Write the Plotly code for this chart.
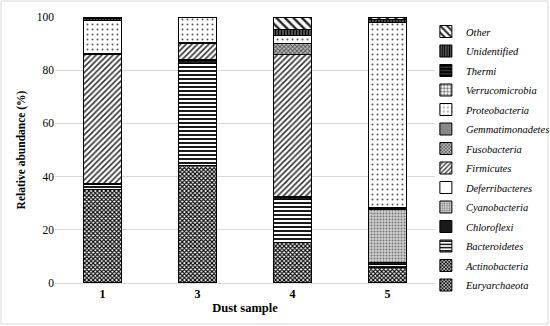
import plotly.graph_objects as go

samples = ["1", "3", "4", "5"]
phyla = ["Euryarchaeota", "Actinobacteria", "Bacteroidetes", "Chloroflexi", "Cyanobacteria",
         "Deferribacteres", "Firmicutes", "Fusobacteria", "Gemmatimonadetes", "Proteobacteria",
         "Verrucomicrobia", "Thermi", "Unidentified", "Other"]

euryarchaeota = [0.1, 0.1, 0.1, 0.1]
actinobacteria = [35.2, 44.0, 15.0, 5.9]
bacteroidetes = [1.8, 38.4, 16.4, 1.0]
chloroflexi = [0.2, 1.3, 0.8, 0.7]
cyanobacteria = [0.1, 0.2, 0.3, 20.1]
deferribacteres = [0.0, 0.0, 0.0, 0.0]
firmicutes = [48.6, 6.2, 53.3, 0.2]
fusobacteria = [0.1, 0.1, 4.0, 0.1]
gemmatimonadetes = [0.1, 0.1, 0.1, 0.1]
proteobacteria = [12.4, 9.6, 3.1, 69.7]
verrucomicrobia = [0.1, 0.0, 0.1, 0.1]
thermi = [0.0, 0.0, 0.0, 0.1]
unidentified = [0.6, 0.0, 2.2, 0.9]
other = [0.7, 0.0, 4.6, 1.0]

values = [euryarchaeota, actinobacteria, bacteroidetes, chloroflexi, cyanobacteria,
          deferribacteres, firmicutes, fusobacteria, gemmatimonadetes, proteobacteria,
          verrucomicrobia, thermi, unidentified, other]

# pattern styles: (shape, fg, bg, size, solidity)
styles = [
    ("x", "#000000", "#ffffff", 3, 0.6),   # Euryarchaeota
    ("x", "#000000", "#ffffff", 3, 0.6),   # Actinobacteria
    ("-", "#000000", "#ffffff", 4, 0.45),  # Bacteroidetes
    ("", "#000000", "#1a1a1a", 4, 0.5),    # Chloroflexi
    (".", "#777777", "#d0d0d0", 3, 0.35),  # Cyanobacteria
    ("", "#ffffff", "#ffffff", 4, 0.5),    # Deferribacteres
    ("/", "#333333", "#ffffff", 4, 0.4),   # Firmicutes
    ("x", "#555555", "#bbbbbb", 3, 0.5),   # Fusobacteria
    ("", "#888888", "#888888", 4, 0.5),    # Gemmatimonadetes
    (".", "#555555", "#ffffff", 5, 0.12),  # Proteobacteria
    ("+", "#222222", "#ffffff", 4, 0.3),   # Verrucomicrobia
    ("-", "#000000", "#333333", 4, 0.5),   # Thermi
    ("|", "#000000", "#666666", 3, 0.5),   # Unidentified
    ("\\", "#222222", "#ffffff", 6, 0.4),  # Other
]

fig = go.Figure()
n = len(phyla)
for i, (name, vals, st) in enumerate(zip(phyla, values, styles)):
    shape, fg, bg, size, sol = st
    fig.add_trace(go.Bar(
        x=samples, y=vals, name=name, legendrank=n - i, legendgroup=name,
        marker=dict(color=bg, line=dict(color="#000000", width=1),
                    pattern=dict(shape=shape, fgcolor=fg, bgcolor=bg, size=size,
                                 solidity=sol, fillmode="replace")),
    ))

serif = "Liberation Serif"
fig.update_layout(
    width=550, height=326,
    barmode="stack", bargap=0.59,
    paper_bgcolor="white", plot_bgcolor="white",
    margin=dict(l=55, r=115, t=17, b=43, autoexpand=False),
    font=dict(family=serif, size=11, color="#000000"),
    legend=dict(x=0.976, y=1.0, xanchor="left", yanchor="top",
                traceorder="grouped", tracegroupgap=0.5, maxheight=310,
                font=dict(family=serif, size=10.5, style="italic", color="#000000"),
                itemwidth=30, bgcolor="rgba(0,0,0,0)"),
    xaxis=dict(type="category", showgrid=False, showline=True, linecolor="#d9d9d9",
               ticks="", tickfont=dict(family=serif, size=12, weight="bold"),
               title=dict(text="<b>Dust sample</b>", font=dict(family=serif, size=12.5), standoff=2)),
    yaxis=dict(range=[0, 100], dtick=20, showgrid=True, gridcolor="#d9d9d9", gridwidth=1,
               zeroline=False, showline=False, ticks="", tickfont=dict(family=serif, size=11.5),
               title=dict(text="<b>Relative abundance (%)</b>", font=dict(family=serif, size=11.5), standoff=8)),
    shapes=[dict(type="rect", xref="paper", yref="paper",
                 x0=(1 - 55) / 380, x1=(548 - 55) / 380,
                 y0=(283 - 324) / 266, y1=(283 - 1) / 266,
                 line=dict(color="#d9d9d9", width=1), layer="below")],
)

fig.write_html("out.html", config={"displayModeBar": False},
               post_script="document.body.style.margin='0';")
